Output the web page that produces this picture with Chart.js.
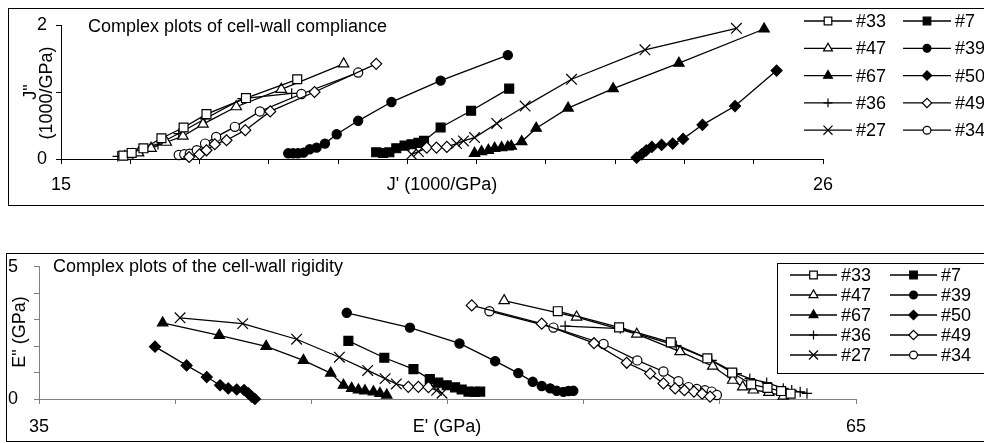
<!DOCTYPE html>
<html>
<head>
<meta charset="utf-8">
<script src="https://cdn.jsdelivr.net/npm/chart.js@4/dist/chart.umd.min.js"></script>
<style>
    html, body { margin: 0; padding: 0; background: #fff; }
    body { width: 984px; height: 443px; position: relative; overflow: hidden; }
    canvas { position: absolute; left: 0; }
    #cTop { top: 0; }
    #cBot { top: 240px; }
</style>
</head>
<body>
<canvas id="cTop" width="984" height="220"></canvas>
<canvas id="cBot" width="984" height="203"></canvas>
<script>
// compliance J' / J'' (1000/GPa), pairs [J', J'']
const t33 = [[15.9,0.05],[16.02,0.09],[16.19,0.16],[16.45,0.31],[16.77,0.47],[17.1,0.67],[17.67,0.91],[18.41,1.19]];
const t47 = [[15.97,0.04],[16.12,0.09],[16.3,0.16],[16.52,0.25],[16.76,0.34],[17.05,0.52],[17.53,0.78],[18.18,1.04],[19.08,1.42]];
const t67 = [[20.97,0.085],[21.07,0.11],[21.17,0.13],[21.26,0.16],[21.36,0.17],[21.45,0.18],[21.5,0.19],[21.65,0.26],[21.86,0.46],[22.32,0.76],[22.97,1.05],[23.92,1.43],[25.15,1.94]];
const t36 = [[15.82,0.04],[15.92,0.06],[16.03,0.09],[16.18,0.13],[16.4,0.22],[16.7,0.38],[17.08,0.6],[17.62,0.9],[18.33,0.98]];
const t27 = [[20.06,0.07],[20.16,0.11],[20.28,0.17],[20.42,0.17],[20.57,0.18],[20.71,0.23],[20.81,0.27],[20.97,0.32],[21.29,0.53],[21.7,0.79],[22.37,1.19],[23.43,1.63],[24.75,1.95]];
const t7  = [[19.55,0.1],[19.65,0.09],[19.74,0.1],[19.84,0.16],[19.96,0.2],[20.06,0.22],[20.16,0.24],[20.24,0.27],[20.48,0.47],[20.92,0.72],[21.47,1.05]];
const t39 = [[18.28,0.085],[18.35,0.085],[18.42,0.085],[18.5,0.095],[18.59,0.145],[18.69,0.17],[18.81,0.23],[18.98,0.37],[19.29,0.57],[19.77,0.85],[20.48,1.17],[21.45,1.55]];
const t50 = [[23.31,0.02],[23.38,0.07],[23.45,0.13],[23.53,0.18],[23.67,0.21],[23.83,0.23],[23.98,0.3],[24.26,0.51],[24.73,0.79],[25.33,1.32]];
const t49 = [[16.85,0.03],[17.0,0.07],[17.1,0.13],[17.22,0.22],[17.39,0.28],[17.66,0.43],[18.02,0.71],[18.66,1.0],[19.55,1.42]];
const t34 = [[16.7,0.06],[16.78,0.07],[16.86,0.08],[16.96,0.13],[17.08,0.23],[17.24,0.33],[17.51,0.48],[17.87,0.71],[18.47,0.97],[19.29,1.29]];

// rigidity E' / E'' (GPa), pairs [E', E'']
const b33 = [[54.05,3.32],[56.3,2.71],[58.2,2.14],[59.54,1.54],[60.45,1.0],[61.15,0.55],[61.75,0.42],[62.25,0.3],[62.6,0.2]];
const b47 = [[52.08,3.72],[54.74,3.1],[56.95,2.45],[58.54,1.79],[59.74,1.24],[60.47,0.71],[60.84,0.46],[61.23,0.34],[61.8,0.25],[62.33,0.11]];
const b67 = [[39.54,2.88],[41.62,2.41],[43.34,1.99],[44.71,1.46],[45.71,0.98],[46.18,0.52],[46.48,0.4],[46.73,0.34],[46.97,0.31],[47.28,0.27],[47.52,0.21],[47.77,0.15]];
const b36 = [[54.32,2.76],[56.35,2.66],[58.4,2.02],[59.7,1.46],[60.62,0.96],[61.1,0.77],[61.72,0.62],[62.33,0.4],[62.64,0.33],[62.95,0.27],[63.2,0.21]];
const b27 = [[40.18,3.07],[42.48,2.85],[44.46,2.26],[46.03,1.58],[47.07,1.08],[47.71,0.77],[48.12,0.57],[48.56,0.46],[48.93,0.46],[49.3,0.45],[49.6,0.33],[49.8,0.22]];
const b7  = [[46.36,2.2],[47.68,1.56],[48.75,1.13],[49.35,0.75],[49.66,0.62],[49.97,0.52],[50.28,0.44],[50.52,0.36],[50.77,0.28],[51.0,0.27],[51.2,0.28]];
const b39 = [[46.3,3.26],[48.62,2.7],[50.44,2.1],[51.75,1.43],[52.6,0.98],[53.13,0.65],[53.46,0.49],[53.77,0.4],[54.01,0.31],[54.26,0.27],[54.44,0.3],[54.62,0.31]];
const b50 = [[39.26,1.98],[40.42,1.27],[41.16,0.83],[41.65,0.52],[41.95,0.4],[42.26,0.36],[42.53,0.34],[42.69,0.21],[42.81,0.09],[42.93,0.0]];
const b49 = [[50.89,3.54],[53.46,2.85],[55.38,2.11],[56.58,1.37],[57.44,0.96],[57.93,0.59],[58.36,0.4],[58.7,0.33],[59.05,0.28],[59.35,0.2],[59.64,0.09]];
const b34 = [[51.54,3.32],[53.89,2.7],[55.73,2.08],[56.97,1.46],[57.93,1.04],[58.48,0.67],[58.85,0.45],[59.15,0.38],[59.45,0.33],[59.7,0.28],[59.89,0.15]];

const labels = ['#33', '#47', '#67', '#36', '#27', '#7', '#39', '#50', '#49', '#34'];

// series table: marker look + data for each panel
const series = [
    { label: '#33', style: 'rect', filled: false, top: t33, bot: b33 },
    { label: '#47', style: 'triangle', filled: false, top: t47, bot: b47 },
    { label: '#67', style: 'triangle', filled: true, top: t67, bot: b67 },
    { label: '#36', style: 'cross', filled: false, top: t36, bot: b36 },
    { label: '#27', style: 'crossRot', filled: false, top: t27, bot: b27 },
    { label: '#7', style: 'rect', filled: true, top: t7, bot: b7 },
    { label: '#39', style: 'circle', filled: true, top: t39, bot: b39 },
    { label: '#50', style: 'rectRot', filled: true, top: t50, bot: b50 },
    { label: '#49', style: 'rectRot', filled: false, top: t49, bot: b49 },
    { label: '#34', style: 'circle', filled: false, top: t34, bot: b34 }
];
// a few #27 points carry an open diamond marker in the original
const diamondPts = { top: [2, 3, 4], bot: [7, 8, 9] };

const FONT = 'Liberation Sans, Arial, sans-serif';
const markerSize = { circle: 4.6, rect: 6.3, triangle: 6, rectRot: 5.5, cross: 5.2, crossRot: 7.5 };

function drawMarker(ctx, style, filled, x, y, k) {
    ctx.save();
    ctx.fillStyle = filled ? '#000' : '#fff';
    ctx.strokeStyle = '#000';
    ctx.lineWidth = 1.2;
    Chart.helpers.drawPoint(ctx, { pointStyle: style, radius: markerSize[style] * k, rotation: 0, borderWidth: 1.2 }, x, y);
    ctx.restore();
}

function makeDecor(p) {
    return {
        id: 'decor_' + p.key,
        beforeDraw: function (chart) {
            const ctx = chart.ctx;
            ctx.save();
            ctx.fillStyle = '#fff';
            ctx.fillRect(0, 0, chart.width, chart.height);
            ctx.strokeStyle = '#000';
            ctx.lineWidth = 1;
            ctx.strokeRect(p.frame[0] + 0.5, p.frame[1] + 0.5, p.frame[2], p.frame[3]);
            ctx.restore();
        },
        afterDraw: function (chart) {
            const ctx = chart.ctx;
            ctx.save();
            ctx.fillStyle = '#000';
            ctx.font = '18px ' + FONT;
            ctx.textBaseline = 'alphabetic';
            ctx.textAlign = 'left';
            ctx.fillText(p.title, p.titleX, p.titleY);

            ctx.textAlign = 'center';
            ctx.textBaseline = 'middle';
            ctx.fillText(p.xTitle, p.xTitlePos[0], p.xTitlePos[1]);

            p.yTitle.forEach(function (t) {
                ctx.save();
                ctx.translate(t[1], t[2]);
                ctx.rotate(-Math.PI / 2);
                ctx.fillText(t[0], 0, 0);
                ctx.restore();
            });

            // legend, two columns of five
            const lg = p.legend;
            if (lg.box) {
                ctx.strokeStyle = '#000';
                ctx.lineWidth = 1;
                ctx.strokeRect(lg.box[0] + 0.5, lg.box[1] + 0.5, lg.box[2], lg.box[3]);
            }
            ctx.textAlign = 'left';
            labels.forEach(function (name, i) {
                const s = series.find(function (d) { return d.label === name; });
                const col = Math.floor(i / 5), row = i % 5;
                const y = lg.y0 + row * lg.dy;
                const x0 = lg.lineX[col], x1 = x0 + lg.lineW;
                ctx.strokeStyle = '#000';
                ctx.lineWidth = 1.3;
                ctx.beginPath();
                ctx.moveTo(x0, y);
                ctx.lineTo(x1, y);
                ctx.stroke();
                drawMarker(ctx, s.style, s.filled, (x0 + x1) / 2, y, 0.85);
                ctx.fillStyle = '#000';
                ctx.fillText(name, x1 + 4, y + 1);
            });
            ctx.restore();
        }
    };
}

function makeChart(id, p) {
    const datasets = series.map(function (s) {
        const dia = s.label === '#27' ? diamondPts[p.key] : [];
        return {
            label: s.label,
            data: s[p.key].map(function (d) { return { x: d[0], y: d[1] }; }),
            showLine: true,
            borderColor: '#000',
            borderWidth: 1.3,
            tension: 0,
            clip: false,
            pointStyle: function (c) { return dia.indexOf(c.dataIndex) >= 0 ? 'rectRot' : s.style; },
            pointRadius: function (c) { return dia.indexOf(c.dataIndex) >= 0 ? markerSize.rectRot : markerSize[s.style]; },
            pointBackgroundColor: function (c) { return (s.filled && dia.indexOf(c.dataIndex) < 0) ? '#000' : '#fff'; },
            pointBorderColor: '#000',
            pointBorderWidth: 1.2
        };
    });
    const tickFont = { family: FONT, size: 18 };
    return new Chart(document.getElementById(id), {
        type: 'scatter',
        data: { datasets: datasets },
        options: {
            responsive: false,
            animation: false,
            devicePixelRatio: 1,
            events: [],
            layout: { padding: p.padding },
            plugins: { legend: { display: false }, tooltip: { enabled: false } },
            scales: {
                x: {
                    type: 'linear', min: p.xMin, max: p.xMax,
                    afterFit: function (sc) { sc.height = p.xAxisH; },
                    border: { display: true, color: p.axisColor, width: 1 },
                    grid: { drawOnChartArea: false, tickLength: 5, tickColor: p.axisColor },
                    ticks: {
                        stepSize: p.xStep, autoSkip: false, maxRotation: 0, minRotation: 0,
                        padding: p.xPad, color: '#000', font: tickFont,
                        callback: function (v) { return (v === p.xMin || v === p.xMax) ? String(v) : ''; }
                    }
                },
                y: {
                    type: 'linear', min: 0, max: p.yMax,
                    afterFit: function (sc) { sc.width = p.yAxisW; },
                    border: { display: true, color: p.axisColor, width: 1 },
                    grid: { drawOnChartArea: false, tickLength: 5, tickColor: p.axisColor },
                    ticks: {
                        stepSize: 1, autoSkip: false, padding: p.yPad, color: '#000', font: tickFont,
                        callback: function (v) { return (v === 0 || v === p.yMax) ? String(v) : ''; }
                    }
                }
            }
        },
        plugins: [makeDecor(p)]
    });
}

makeChart('cTop', {
    key: 'top',
    xMin: 15, xMax: 26, xStep: 1, yMax: 2,
    padding: { left: 0, top: 25, right: 161, bottom: 0 },
    yAxisW: 61, xAxisH: 61, xPad: 10, yPad: 9,
    axisColor: '#000',
    frame: [8, 8, 1000, 197],
    title: 'Complex plots of cell-wall compliance', titleX: 88, titleY: 32,
    xTitle: "J' (1000/GPa)", xTitlePos: [442, 185],
    yTitle: [['J"', 31, 92], ['(1000/GPa)', 47, 93]],
    legend: { box: null, y0: 21, dy: 27.3, lineX: [804, 903], lineW: 48 }
});

makeChart('cBot', {
    key: 'bot',
    xMin: 35, xMax: 65, xStep: 5, yMax: 5,
    padding: { left: 0, top: 25, right: 128, bottom: 0 },
    yAxisW: 39, xAxisH: 44, xPad: 12, yPad: 16,
    axisColor: '#808080',
    frame: [6, 13, 1000, 188],
    title: 'Complex plots of the cell-wall rigidity', titleX: 53, titleY: 32,
    xTitle: "E' (GPa)", xTitlePos: [447, 187],
    yTitle: [['E" (GPa)', 20, 92]],
    legend: { box: [777, 23, 220, 110], y0: 35, dy: 20, lineX: [790, 890], lineW: 47 }
});
</script>
</body>
</html>
